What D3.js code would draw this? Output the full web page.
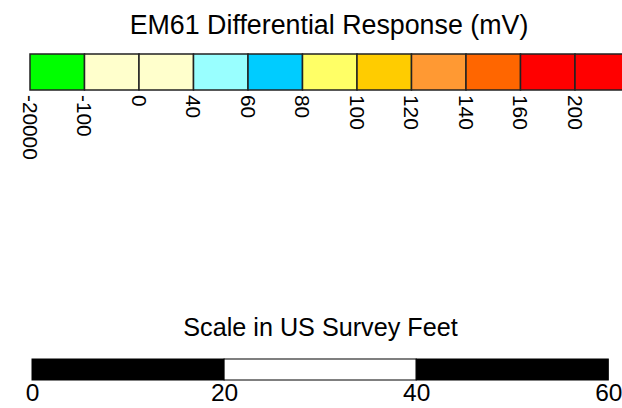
<!DOCTYPE html>
<html>
<head>
<meta charset="utf-8">
<script src="https://cdn.jsdelivr.net/npm/d3@7"></script>
<style>
  body { margin: 0; background: #fff; }
  text { font-family: "Liberation Sans", Arial, sans-serif; fill: #000; }
</style>
</head>
<body>
<svg id="chart" width="622" height="408"></svg>
<script>
// legend classes (lower break of each class) and their colours
const breakLabels = ['-20000', '-100', '0', '40', '60', '80', '100', '120', '140', '160', '200'];
const classColors = ['#00ff00', '#ffffcc', '#ffffcc', '#99ffff', '#00ccff', '#ffff66',
                     '#ffcc00', '#ff9933', '#ff6600', '#ff0000', '#ff0000'];

// scale bar in feet
const scaleTicks = [0, 20, 40, 60];
const scaleFills = ['#000000', '#ffffff', '#000000'];

const svg = d3.select('#chart');

// colour bar
const x = d3.scaleLinear()
  .domain([0, classColors.length])
  .range([30, 629.5]);

svg.append('text')
  .attr('x', 329)
  .attr('y', 34)
  .attr('text-anchor', 'middle')
  .style('font-size', '26.8px')
  .text('EM61 Differential Response (mV)');

svg.append('g')
  .selectAll('rect')
  .data(classColors)
  .join('rect')
  .attr('x', (d, i) => x(i))
  .attr('y', 54)
  .attr('width', (d, i) => x(i + 1) - x(i))
  .attr('height', 36)
  .attr('fill', d => d)
  .attr('stroke', '#222')
  .attr('stroke-width', 1.5);

svg.append('g')
  .selectAll('text')
  .data(breakLabels)
  .join('text')
  .attr('transform', (d, i) => `translate(${x(i)},95) rotate(90)`)
  .attr('text-anchor', 'start')
  .attr('dy', '0.35em')
  .style('font-size', '20.8px')
  .text(d => d);

// scale bar
const s = d3.scaleLinear()
  .domain([0, 60])
  .range([32, 608.3]);

svg.append('text')
  .attr('x', 320.5)
  .attr('y', 336)
  .attr('text-anchor', 'middle')
  .style('font-size', '25.2px')
  .text('Scale in US Survey Feet');

svg.append('g')
  .selectAll('rect')
  .data(scaleFills)
  .join('rect')
  .attr('x', (d, i) => s(scaleTicks[i]))
  .attr('y', 359)
  .attr('width', (d, i) => s(scaleTicks[i + 1]) - s(scaleTicks[i]))
  .attr('height', 21)
  .attr('fill', d => d)
  .attr('stroke', '#000')
  .attr('stroke-width', 1);

const axis = svg.append('g')
  .attr('transform', 'translate(0,380)')
  .call(d3.axisBottom(s).tickValues(scaleTicks).tickSize(0).tickPadding(4));
axis.select('.domain').remove();
axis.selectAll('text')
  .style('font-size', '24.5px')
  .style('font-family', '"Liberation Sans", Arial, sans-serif')
  .attr('fill', '#000');
</script>
</body>
</html>
